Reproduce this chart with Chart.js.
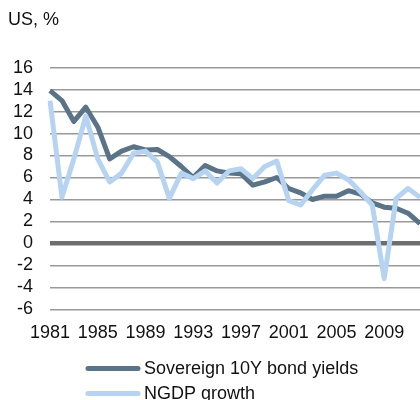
<!DOCTYPE html>
<html>
<head>
<meta charset="utf-8">
<script src="https://cdn.jsdelivr.net/npm/chart.js@4"></script>
<style>
    body { margin: 0; background: #fff; }
    #wrap { width: 420px; height: 400px; position: relative; }
</style>
</head>
<body>
<div id="wrap"><canvas id="usChart"></canvas></div>
<script>
const years = ['1981', '1982', '1983', '1984', '1985', '1986', '1987', '1988', '1989', '1990',
    '1991', '1992', '1993', '1994', '1995', '1996', '1997', '1998', '1999', '2000',
    '2001', '2002', '2003', '2004', '2005', '2006', '2007', '2008', '2009', '2010',
    '2011', '2012']
const bondYields = [13.9, 13.0, 11.1, 12.4, 10.6, 7.7, 8.4, 8.8, 8.5, 8.55,
    7.9, 7.0, 6.0, 7.1, 6.6, 6.4, 6.35, 5.3, 5.6, 6.0,
    5.0, 4.6, 4.0, 4.3, 4.3, 4.8, 4.5, 3.7, 3.3, 3.2,
    2.75, 1.8]
const ngdpGrowth = [13.0, 4.2, 7.7, 11.6, 7.7, 5.6, 6.4, 8.2, 8.4, 7.4,
    4.1, 6.4, 5.9, 6.6, 5.5, 6.6, 6.8, 5.9, 7.0, 7.5,
    3.9, 3.5, 4.9, 6.2, 6.4, 5.8, 4.7, 3.5, -3.2, 4.1,
    5.0, 4.2]
const shownYears = ['1981', '1985', '1989', '1993', '1997', '2001', '2005', '2009']
const yMin = -6
const yMax = 16
const yStep = 2

Chart.defaults.font.family = '"Liberation Sans", Arial, sans-serif'
Chart.defaults.font.size = 18
Chart.defaults.color = '#111'

// legend drawn by hand: two rows, left aligned under the plot
const stackedLegend = {
    id: 'stackedLegend',
    afterDraw(chart) {
        const ctx = chart.ctx
        let y = chart.chartArea.bottom + 59
        chart.data.datasets.forEach(ds => {
            ctx.save()
            ctx.strokeStyle = ds.borderColor
            ctx.lineWidth = 5
            ctx.lineCap = 'round'
            ctx.beginPath()
            ctx.moveTo(88, y)
            ctx.lineTo(138, y)
            ctx.stroke()
            ctx.fillStyle = '#111'
            ctx.font = '18px "Liberation Sans", Arial, sans-serif'
            ctx.textBaseline = 'middle'
            ctx.fillText(ds.label, 144, y + 1)
            ctx.restore()
            y += 25
        })
    }
}

const ctx = document.getElementById('usChart').getContext('2d')
new Chart(ctx, {
    type: 'line',
    data: {
        labels: years,
        datasets: [{
            label: 'Sovereign 10Y bond yields',
            data: bondYields,
            borderColor: '#5b7386',
            borderWidth: 5,
            borderJoinStyle: 'round',
            pointRadius: 0,
            tension: 0,
            order: 1
        }, {
            label: 'NGDP growth',
            data: ngdpGrowth,
            borderColor: '#b6d4f1',
            borderWidth: 5,
            borderJoinStyle: 'round',
            pointRadius: 0,
            tension: 0,
            order: 0
        }]
    },
    options: {
        responsive: true,
        maintainAspectRatio: false,
        animation: false,
        layout: {
            padding: { left: 8, right: 0, top: 0, bottom: 51 }
        },
        plugins: {
            legend: { display: false },
            tooltip: { enabled: false },
            title: {
                display: true,
                text: 'US, %',
                align: 'start',
                font: { size: 18, weight: 'normal' },
                padding: { top: 9, bottom: 37 }
            }
        },
        scales: {
            x: {
                grid: { display: false },
                border: { display: false },
                afterFit: function (scale) { scale.paddingRight = 0 },
                ticks: {
                    autoSkip: false,
                    maxRotation: 0,
                    padding: 5,
                    callback: function (value) {
                        let lbl = this.getLabelForValue(value)
                        return shownYears.includes(lbl) ? lbl : ''
                    }
                }
            },
            y: {
                min: yMin,
                max: yMax,
                border: { display: false },
                afterFit: function (scale) { scale.width = 42 },
                ticks: { stepSize: yStep, padding: 17, autoSkip: false },
                grid: {
                    drawTicks: false,
                    color: c => c.tick.value === 0 ? '#6e6e6e' : '#999',
                    lineWidth: c => c.tick.value === 0 ? 4.5 : 1.5
                }
            }
        }
    },
    plugins: [stackedLegend]
})
</script>
</body>
</html>
